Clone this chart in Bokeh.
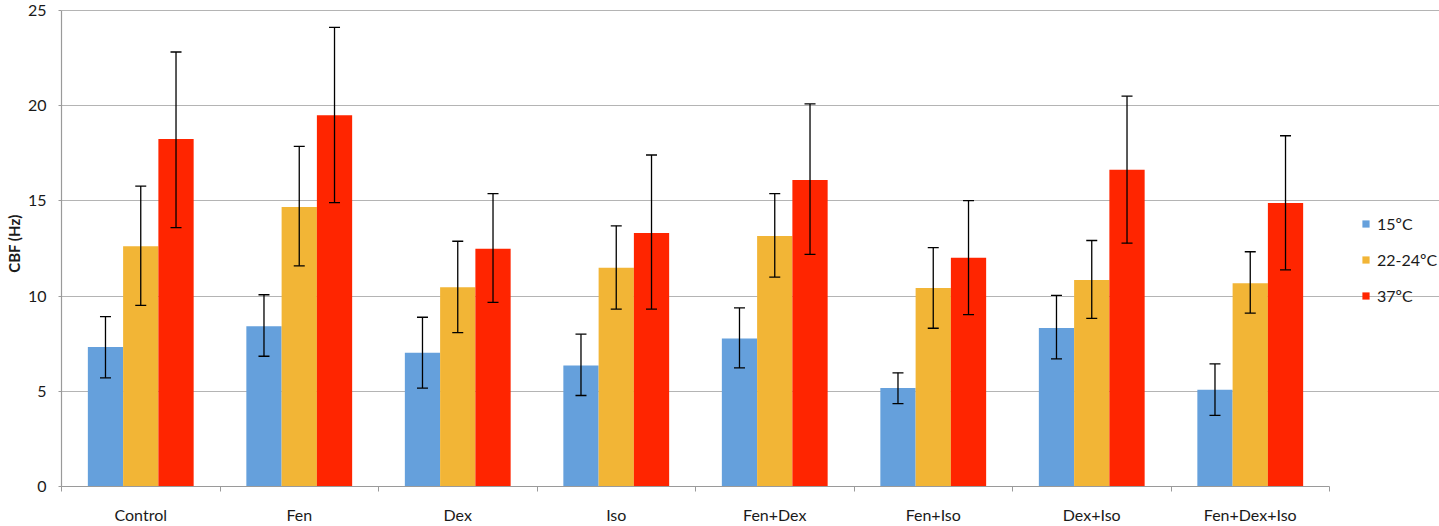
import numpy as np
from bokeh.plotting import figure
from bokeh.models import (ColumnDataSource, Range1d, FixedTicker, Whisker, TeeHead,
                          Legend, LegendItem)
from bokeh.embed import file_html
from bokeh.resources import INLINE

categories = ["Control", "Fen", "Dex", "Iso", "Fen+Dex", "Fen+Iso", "Dex+Iso", "Fen+Dex+Iso"]
series_names = ["15ºC", "22-24ºC", "37ºC"]

mean_15 = [7.33, 8.42, 7.02, 6.35, 7.77, 5.17, 8.33, 5.08]
upper_15 = [8.92, 10.07, 8.89, 8.00, 9.38, 5.97, 10.04, 6.44]
lower_15 = [5.71, 6.84, 5.17, 4.78, 6.23, 4.35, 6.70, 3.74]

mean_22 = [12.62, 14.68, 10.46, 11.49, 13.16, 10.42, 10.84, 10.68]
upper_22 = [15.78, 17.86, 12.88, 13.69, 15.38, 12.55, 12.92, 12.33]
lower_22 = [9.51, 11.59, 8.08, 9.32, 11.00, 8.31, 8.83, 9.11]

mean_37 = [18.25, 19.50, 12.48, 13.32, 16.10, 12.01, 16.64, 14.89]
upper_37 = [22.82, 24.11, 15.38, 17.41, 20.09, 15.01, 20.50, 18.42]
lower_37 = [13.60, 14.91, 9.67, 9.32, 12.19, 9.03, 12.78, 11.38]

y_ticks = [0, 5, 10, 15, 20, 25]

colors = ["#65A0DC", "#F2B536", "#FF2500"]
FONT = "Lato"

W, H = 1439, 526
FL = 61             # frame left (figure px)
AX_R = 1329         # right end of the plotted axis / grid
FT, FB = 0, 487     # frame top/bottom
Y25 = 10            # pixel row of the 25 gridline

n = len(categories)
px_per_unit = (FB - Y25) / 25.0
y_end = 25 + Y25 / px_per_unit
x_end = n * (W - FL) / (AX_R - FL)

p = figure(width=W, height=H, output_backend="svg", toolbar_location=None,
           x_range=Range1d(0, x_end), y_range=Range1d(0, y_end),
           min_border_left=FL, min_border_right=0,
           min_border_top=FT, min_border_bottom=H - FB)
p.outline_line_color = None
p.background_fill_color = "white"

bar_w = 0.2225
offsets = [-bar_w, 0.0, bar_w]
means = [mean_15, mean_22, mean_37]
uppers = [upper_15, upper_22, upper_37]
lowers = [lower_15, lower_22, lower_37]

idx = np.arange(n) + 0.5
renderers = []
for k in range(3):
    src = ColumnDataSource(dict(x=idx + offsets[k], top=means[k],
                                up=uppers[k], lo=lowers[k]))
    r = p.vbar(x="x", top="top", bottom=0, width=bar_w, source=src,
               fill_color=colors[k], line_color=None)
    renderers.append(r)
    wk = Whisker(source=src, base="x", upper="up", lower="lo", dimension="height",
                 line_color="black", line_width=1.3, level="overlay",
                 upper_head=TeeHead(size=11, line_color="black", line_width=1.3),
                 lower_head=TeeHead(size=11, line_color="black", line_width=1.3))
    p.add_layout(wk)

# Axes
p.xaxis.bounds = (0, n)
p.xaxis.ticker = FixedTicker(ticks=list(idx), minor_ticks=list(range(n + 1)))
p.xaxis.major_label_overrides = {float(v): c for v, c in zip(idx, categories)}
p.xaxis.major_tick_line_color = None
p.xaxis.minor_tick_line_color = "#9a9a9a"
p.xaxis.minor_tick_out = 5
p.xaxis.minor_tick_in = 0
p.xaxis.axis_line_color = "#9a9a9a"
p.xaxis.axis_line_width = 1.2
p.xaxis.major_label_standoff = 12
p.xaxis.major_label_text_font = FONT
p.xaxis.major_label_text_font_size = "16px"
p.xaxis.major_label_text_color = "#1a1a1a"
p.xgrid.grid_line_color = None

p.yaxis.ticker = FixedTicker(ticks=y_ticks)
p.yaxis.bounds = (0, 25)
p.yaxis.minor_tick_line_color = None
p.yaxis.major_tick_line_color = "#9a9a9a"
p.yaxis.major_tick_out = 3
p.yaxis.major_tick_in = 0
p.yaxis.axis_line_color = "#9a9a9a"
p.yaxis.axis_line_width = 1.2
p.yaxis.major_label_standoff = 12
p.yaxis.major_label_text_font = FONT
p.yaxis.major_label_text_font_size = "16px"
p.yaxis.major_label_text_color = "#1a1a1a"
p.yaxis.axis_label = "CBF (Hz)"
p.yaxis.axis_label_text_font = FONT
p.yaxis.axis_label_text_font_style = "bold"
p.yaxis.axis_label_text_font_size = "15px"
p.yaxis.axis_label_text_color = "#1a1a1a"
p.yaxis.axis_label_standoff = 2
p.ygrid.grid_line_color = "#b4b4b4"
p.ygrid.grid_line_width = 1.2
p.ygrid.bounds = (0, n)

# Legend (inside the frame, to the right of the plotted categories)
items = [LegendItem(label=s, renderers=[r]) for s, r in zip(series_names, renderers)]
legend = Legend(items=items, location=(1300, 181),
                glyph_width=9, glyph_height=9, label_standoff=7,
                label_height=20, spacing=16, padding=10, margin=0,
                label_text_font=FONT, label_text_font_size="16px",
                label_text_color="#1a1a1a",
                border_line_color=None, background_fill_alpha=0)
p.add_layout(legend, "center")

open("out.html", "w").write(file_html(p, INLINE))
